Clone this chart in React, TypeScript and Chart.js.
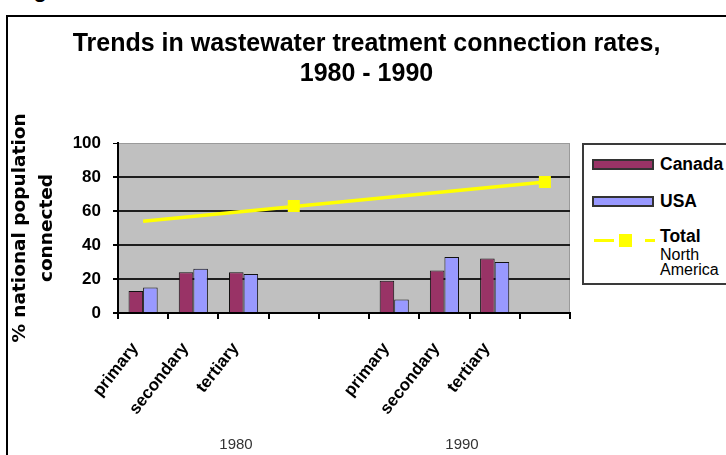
import React, { useEffect, useRef } from 'react';
import { Chart, registerables } from 'chart.js';

Chart.register(...registerables);

const FONT = '"Liberation Sans", Arial, sans-serif';

const titleLines = ['Trends in wastewater treatment connection rates,', '1980 - 1990'];
const yTitleLines = ['% national population', 'connected'];
const categories = ['primary', 'secondary', 'tertiary', '', '', 'primary', 'secondary', 'tertiary', ''];
const yearLabels = ['1980', '1990'];
const canadaValues = [13, 24, 24, null, null, 19, 25, 32, null];
const usaValues = [15, 26, 23, null, null, 8, 33, 30, null];
const totalValues = [null, null, null, 63, null, null, null, null, 77];
const totalTrendValues = [54, null, null, null, null, null, null, null, 77];
const yTicks = [0, 20, 40, 60, 80, 100];

const CANADA = '#993366';
const USA = '#9999FF';
const TOTAL = '#FFFF00';

const plotBg = {
  id: 'plotBg',
  beforeDraw(chart: any) {
    const { ctx, chartArea } = chart;
    const { left, top, width, height } = chartArea;
    ctx.save();
    ctx.fillStyle = '#C0C0C0';
    ctx.fillRect(left, top, width, height);
    ctx.strokeStyle = '#9a9a9a';
    ctx.lineWidth = 1;
    ctx.strokeRect(left + 0.5, top + 0.5, width - 1, height - 1);
    ctx.restore();
  },
};

export default function App() {
  const ref = useRef<HTMLCanvasElement | null>(null);

  useEffect(() => {
    if (!ref.current) return;
    const chart = new Chart(ref.current, {
      type: 'bar',
      data: {
        labels: categories,
        datasets: [
          {
            type: 'line',
            label: 'Total North America',
            data: totalValues,
            showLine: false,
            pointStyle: 'rect',
            pointRadius: 8.5,
            pointHoverRadius: 8.5,
            pointBorderWidth: 0,
            backgroundColor: TOTAL,
            borderColor: TOTAL,
            order: 0,
          },
          {
            type: 'line',
            label: 'trend',
            data: totalTrendValues,
            spanGaps: true,
            borderColor: TOTAL,
            borderWidth: 3.5,
            pointRadius: 0,
            pointHoverRadius: 0,
            order: 1,
          },
          {
            type: 'bar',
            label: 'Canada',
            data: canadaValues,
            backgroundColor: CANADA,
            borderColor: '#111',
            borderWidth: 1,
            order: 2,
          },
          {
            type: 'bar',
            label: 'USA',
            data: usaValues,
            backgroundColor: USA,
            borderColor: '#111',
            borderWidth: 1,
            order: 2,
          },
        ] as any,
      },
      options: {
        animation: false,
        responsive: true,
        maintainAspectRatio: false,
        datasets: { bar: { categoryPercentage: 0.58, barPercentage: 1 } } as any,
        layout: { padding: { left: 7, right: 0, top: 0, bottom: 0 } },
        plugins: {
          legend: { display: false },
          tooltip: { enabled: false },
          title: {
            display: true,
            text: titleLines,
            color: '#000',
            font: { family: FONT, size: 25, weight: 'bold', lineHeight: 1.2 },
            padding: { top: 29, bottom: 54 },
          },
        },
        scales: {
          x: {
            type: 'category',
            offset: true,
            weight: 0,
            grid: {
              display: true,
              drawOnChartArea: false,
              drawTicks: true,
              tickLength: 6,
              color: '#000',
              lineWidth: 2,
              offset: true,
            },
            border: { display: true, color: '#000', width: 2 },
            ticks: {
              autoSkip: false,
              maxRotation: 52,
              minRotation: 52,
              labelOffset: -8,
              color: '#000',
              font: { family: FONT, size: 17, weight: 'bold' },
              padding: 20,
            },
            afterFit: (s: any) => {
              s.height = 120;
            },
          },
          x2: {
            type: 'category',
            labels: yearLabels,
            position: 'bottom',
            offset: true,
            weight: 1,
            grid: { display: false, drawTicks: false },
            border: { display: false },
            ticks: {
              autoSkip: false,
              maxRotation: 0,
              minRotation: 0,
              labelOffset: 5,
              color: '#333',
              font: { family: FONT, size: 15 },
              padding: 3,
            },
            afterFit: (s: any) => {
              s.height = 22;
            },
          },
          y: {
            type: 'linear',
            min: 0,
            max: 100,
            afterBuildTicks: (s: any) => {
              s.ticks = yTicks.map((v) => ({ value: v }));
            },
            grid: {
              color: (c: any) => (c.tick && c.tick.value === 100 ? '#9a9a9a' : '#1e1e1e'),
              lineWidth: (c: any) => (c.tick && c.tick.value === 100 ? 1 : 2),
              drawTicks: true,
              tickLength: 5,
              tickColor: '#000',
            },
            border: { display: true, color: '#000', width: 2 },
            ticks: {
              color: '#000',
              font: { family: FONT, size: 17, weight: 'bold' },
              padding: 12,
            },
            title: {
              display: true,
              text: yTitleLines,
              color: '#000',
              font: { family: '"DejaVu Sans", sans-serif', size: 18.5, weight: 'bold', lineHeight: '27px' } as any,
              padding: 0,
            },
            afterFit: (s: any) => {
              s.width = 111;
            },
          },
          yRight: {
            type: 'linear',
            position: 'right',
            display: true,
            grid: { display: false, drawTicks: false },
            border: { display: false },
            ticks: { display: false },
            afterFit: (s: any) => {
              s.width = 156;
            },
          },
        } as any,
      },
      plugins: [plotBg],
    });
    return () => chart.destroy();
  }, []);

  const legendText: React.CSSProperties = {
    position: 'absolute',
    left: 76,
    fontFamily: FONT,
    fontWeight: 'bold',
    fontSize: 17.5,
    lineHeight: '18px',
    color: '#000',
    whiteSpace: 'nowrap',
  };
  const swatch = (bg: string, top: number): React.CSSProperties => ({
    position: 'absolute',
    left: 8,
    top,
    width: 62,
    height: 11,
    background: bg,
    border: '2px solid #333',
    boxSizing: 'border-box',
  });

  return (
    <div
      style={{
        position: 'absolute',
        left: 0,
        top: 0,
        width: 726,
        height: 455,
        overflow: 'hidden',
        background: '#fff',
        fontFamily: FONT,
      }}
    >
      <div
        style={{
          position: 'absolute',
          left: 14,
          top: -21,
          fontFamily: FONT,
          fontWeight: 'bold',
          fontSize: 22,
          lineHeight: '22px',
          color: '#000',
          whiteSpace: 'nowrap',
        }}
      >
        Figure
      </div>
      <div
        style={{
          position: 'absolute',
          left: 6,
          top: 15,
          width: 800,
          height: 600,
          border: '2px solid #000',
          boxSizing: 'border-box',
        }}
      />
      <div style={{ position: 'absolute', left: 0, top: 0, width: 726, height: 455 }}>
        <canvas ref={ref} />
      </div>
      <div
        style={{
          position: 'absolute',
          left: 582,
          top: 143,
          width: 170,
          height: 142,
          border: '2px solid #3a3a3a',
          boxSizing: 'border-box',
          background: '#fff',
        }}
      >
        <div style={swatch(CANADA, 14)} />
        <div style={{ ...legendText, top: 10 }}>Canada</div>
        <div style={swatch(USA, 51)} />
        <div style={{ ...legendText, top: 47 }}>USA</div>
        <div style={{ position: 'absolute', left: 10, top: 94, width: 20, height: 3, background: TOTAL }} />
        <div style={{ position: 'absolute', left: 35, top: 89, width: 13, height: 13, background: TOTAL }} />
        <div style={{ position: 'absolute', left: 61, top: 94, width: 10, height: 3, background: TOTAL }} />
        <div style={{ ...legendText, top: 82 }}>Total</div>
        <div
          style={{
            position: 'absolute',
            left: 76,
            top: 102,
            fontFamily: FONT,
            fontSize: 16,
            lineHeight: '15px',
            color: '#000',
            whiteSpace: 'nowrap',
          }}
        >
          North
          <br />
          America
        </div>
      </div>
    </div>
  );
}
